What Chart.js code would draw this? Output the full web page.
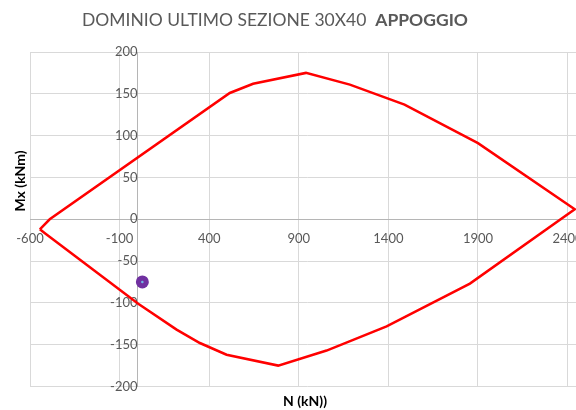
<!DOCTYPE html>
<html>
<head>
<meta charset="utf-8">
<script src="https://cdn.jsdelivr.net/npm/chart.js@4/dist/chart.umd.min.js"></script>
<style>
html, body { margin: 0; padding: 0; background: #fff; overflow: hidden; }
#wrap { width: 600px; height: 410px; }
</style>
</head>
<body>
<div id="wrap"><canvas id="chart" width="600" height="410"></canvas></div>
<script>
const chartTitle = 'DOMINIO ULTIMO SEZIONE 30X40';
const chartTitleBold = 'APPOGGIO';
const xTitle = 'N (kN))';
const yTitle = 'Mx (kNm)';

const xTicks = [-600, -100, 400, 900, 1400, 1900, 2400];
const yTicks = [-200, -150, -100, -50, 0, 50, 100, 150, 200];

// contorno del dominio (ramo superiore poi inferiore)
const domainN = [-545, -490, 515, 645, 940, 1185, 1490, 1900, 2440, 1855, 1390, 1055, 785, 497, 348, 218, 4, -515, -545];
const domainM = [-12, 0, 151, 162, 175, 161, 137, 91, 12, -77, -128, -157, -175, -162, -148, -132, -101, -17, -12];

// punto di verifica
const pointN = [27];
const pointM = [-75];

const toXY = (xs, ys) => xs.map((x, i) => ({x: x, y: ys[i]}));

const tickFont = {family: 'Lato', size: 13};
const tickColor = '#595959';
const gridColor = '#d9d9d9';
const axisColor = '#b5b5b5';

const titlesPlugin = {
	id: 'titles',
	afterDraw(chart) {
		const ctx = chart.ctx;
		ctx.save();
		ctx.textBaseline = 'middle';
		
		// titolo
		ctx.font = '17.5px Lato';
		let w1 = ctx.measureText(chartTitle + '  ').width;
		ctx.font = 'bold 17.5px Lato';
		let w2 = ctx.measureText(chartTitleBold).width;
		let x0 = 275 - (w1 + w2) / 2;
		ctx.fillStyle = '#595959';
		ctx.textAlign = 'left';
		ctx.font = '17.5px Lato';
		ctx.fillText(chartTitle, x0, 20);
		ctx.font = 'bold 17.5px Lato';
		ctx.fillText(chartTitleBold, x0 + w1, 20);
		
		// titoli assi
		ctx.fillStyle = '#000';
		ctx.font = 'bold 14px Lato';
		ctx.textAlign = 'center';
		ctx.fillText(xTitle, 305, 401);
		ctx.translate(20, 181);
		ctx.rotate(-Math.PI / 2);
		ctx.fillText(yTitle, 0, 0);
		ctx.restore();
	}
};

new Chart(document.getElementById('chart'), {
	type: 'scatter',
	data: {
		datasets: [
			{
				data: toXY(pointN, pointM),
				pointRadius: 1.3,
				backgroundColor: '#6fb7e6',
				borderWidth: 0,
				order: 0,
			},
			{
				data: toXY(pointN, pointM),
				pointRadius: 6.5,
				backgroundColor: '#7030a0',
				borderColor: '#7030a0',
				borderWidth: 0,
				order: 1,
			},
			{
				data: toXY(domainN, domainM),
				showLine: true,
				borderColor: '#ff0000',
				borderWidth: 2.5,
				pointRadius: 0,
				tension: 0,
				fill: false,
				order: 2,
			},
		],
	},
	options: {
		responsive: false,
		animation: false,
		layout: {
			padding: {left: 30, top: 52, right: 14.5, bottom: 23.5},
		},
		plugins: {
			legend: {display: false},
			tooltip: {enabled: false},
			title: {display: false},
		},
		scales: {
			x: {
				type: 'linear',
				min: -600,
				max: 2500,
				position: {y: 0},
				afterBuildTicks: (scale) => {
					scale.ticks = xTicks.map(v => ({value: v}));
				},
				grid: {color: gridColor, drawTicks: false},
				border: {color: axisColor},
				ticks: {font: tickFont, color: tickColor, padding: 12, maxRotation: 0, callback: v => String(v)},
			},
			y: {
				type: 'linear',
				min: -200,
				max: 200,
				position: {x: 0},
				afterBuildTicks: (scale) => {
					scale.ticks = yTicks.map(v => ({value: v}));
				},
				grid: {color: gridColor, drawTicks: false},
				border: {color: axisColor},
				ticks: {font: tickFont, color: tickColor, padding: 12, callback: v => String(v)},
			},
		},
	},
	plugins: [titlesPlugin],
});
</script>
</body>
</html>
